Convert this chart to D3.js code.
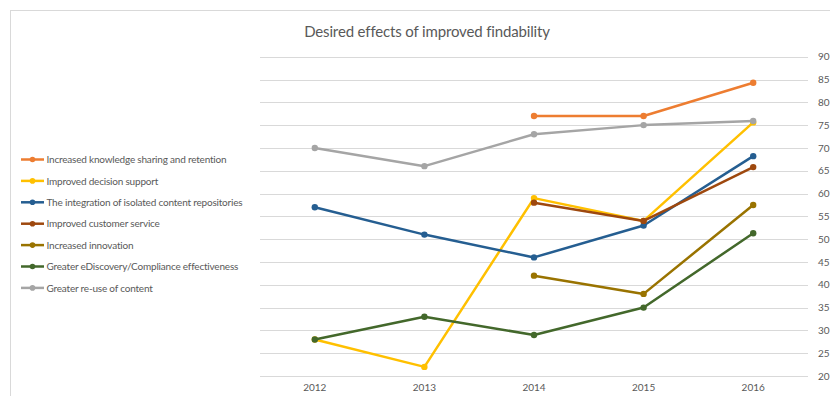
<!DOCTYPE html>
<html>
<head>
<meta charset="utf-8">
<script src="https://cdn.jsdelivr.net/npm/d3@7"></script>
<style>
  html, body { margin: 0; padding: 0; background: #fff; }
  svg { display: block; }
  text { font-family: Lato, "Liberation Sans", sans-serif; }
</style>
</head>
<body>
<svg id="chart" width="830" height="396"></svg>
<script>
const title = "Desired effects of improved findability";
const years = ["2012", "2013", "2014", "2015", "2016"];
const yTicks = [20, 25, 30, 35, 40, 45, 50, 55, 60, 65, 70, 75, 80, 85, 90];
const seriesNames = [
  "Increased knowledge sharing and retention",
  "Improved decision support",
  "The integration of isolated content repositories",
  "Improved customer service",
  "Increased innovation",
  "Greater eDiscovery/Compliance effectiveness",
  "Greater re-use of content"
];
const seriesColors = ["#ED7D31", "#FFC000", "#255E91", "#9E480E", "#997300", "#43682B", "#A5A5A5"];
const knowledgeSharing = [null, null, 77, 77, 84.3];
const decisionSupport = [28, 22, 59, 54, 75.6];
const integration = [57, 51, 46, 53, 68.2];
const customerService = [null, null, 58, 54, 65.8];
const innovation = [null, null, 42, 38, 57.5];
const eDiscovery = [28, 33, 29, 35, 51.3];
const reuse = [70, 66, 73, 75, 75.9];
const seriesValues = [knowledgeSharing, decisionSupport, integration, customerService, innovation, eDiscovery, reuse];

const svg = d3.select("#chart");

// frame
svg.append("rect").attr("x", 10.5).attr("y", 10.5).attr("width", 840).attr("height", 420)
  .attr("fill", "none").attr("stroke", "#d9d9d9").attr("stroke-width", 1);

const x = d3.scaleBand().domain(years).range([260, 808]);
const y = d3.scaleLinear().domain([20, 90]).range([376, 56.7]);

// gridlines
svg.append("g").selectAll("line").data(yTicks).join("line")
  .attr("x1", 260).attr("x2", 808)
  .attr("y1", d => Math.round(y(d)) + 0.5).attr("y2", d => Math.round(y(d)) + 0.5)
  .attr("stroke", "#d9d9d9").attr("stroke-width", 1);

// right axis labels
const yAxis = d3.axisRight(y).tickValues(yTicks).tickSize(0).tickPadding(10);
const gy = svg.append("g").attr("transform", "translate(808,0)").call(yAxis);
gy.select(".domain").remove();
gy.selectAll("text").attr("font-size", 10).attr("fill", "#595959")
  .attr("font-family", "Lato, sans-serif");

// bottom axis labels
const xAxis = d3.axisBottom(x).tickSize(0).tickPadding(8);
const gx = svg.append("g").attr("transform", "translate(0,376)").call(xAxis);
gx.select(".domain").remove();
gx.selectAll("text").attr("font-size", 10).attr("fill", "#595959")
  .attr("font-family", "Lato, sans-serif");

// title
svg.append("text").attr("x", 427).attr("y", 37).attr("text-anchor", "middle")
  .attr("font-size", 15).attr("letter-spacing", -0.15).attr("fill", "#595959").text(title);

// series
const cx = d => x(d) + x.bandwidth() / 2;
const line = d3.line().defined(d => d.v != null).x(d => cx(d.year)).y(d => y(d.v));
seriesNames.forEach((name, i) => {
  const pts = years.map((yr, j) => ({ year: yr, v: seriesValues[i][j] }));
  const g = svg.append("g");
  g.append("path").datum(pts).attr("d", line).attr("fill", "none")
    .attr("stroke", seriesColors[i]).attr("stroke-width", 2.5).attr("stroke-linejoin", "round");
  g.selectAll("circle").data(pts.filter(p => p.v != null)).join("circle")
    .attr("cx", p => cx(p.year)).attr("cy", p => y(p.v)).attr("r", 3.2)
    .attr("fill", seriesColors[i]);
});

// legend
const legend = svg.append("g");
seriesNames.forEach((name, i) => {
  const ly = 159.5 + i * 21.4;
  const g = legend.append("g").attr("transform", `translate(0,${ly})`);
  g.append("line").attr("x1", 21).attr("x2", 44).attr("y1", 0).attr("y2", 0)
    .attr("stroke", seriesColors[i]).attr("stroke-width", 2.5);
  g.append("circle").attr("cx", 32.5).attr("cy", 0).attr("r", 2.8).attr("fill", seriesColors[i]);
  g.append("text").attr("x", 46.5).attr("y", 3.6).attr("font-size", 10)
    .attr("letter-spacing", -0.2).attr("fill", "#595959").text(name);
});
</script>
</body>
</html>
